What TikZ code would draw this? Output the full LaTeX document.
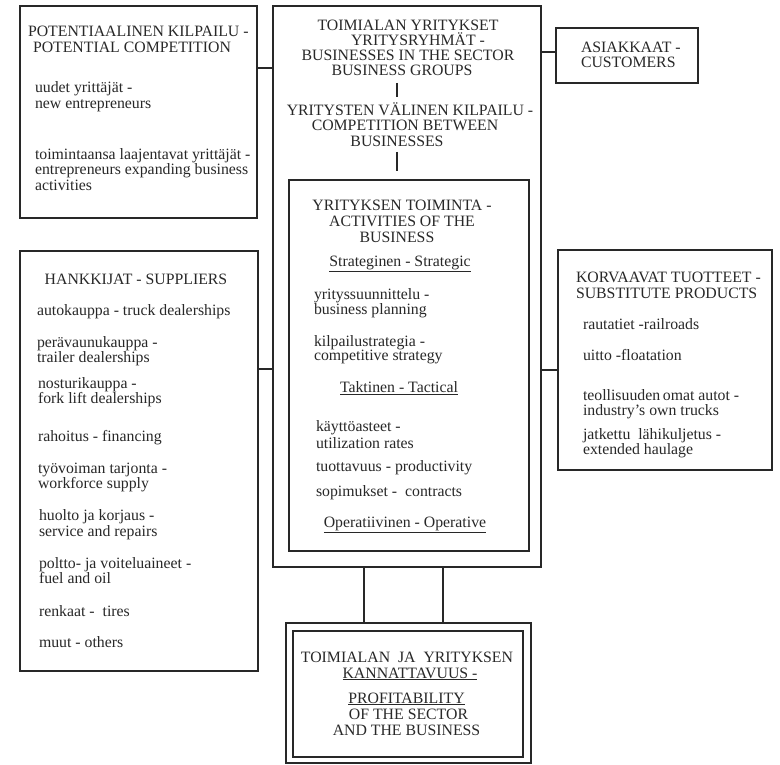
\documentclass[tikz,border=0pt]{standalone}
\usepackage{fontspec}
\setmainfont{Liberation Serif}
\usetikzlibrary{calc}
\definecolor{ink}{RGB}{40,40,40}
\tikzset{
  box/.style={draw=ink, line width=1.2pt, inner sep=0pt, outer sep=0pt},
  lab/.style={text=ink, inner sep=0pt, outer sep=0pt, font=\fontsize{15.8}{16}\selectfont},
  labl/.style={lab, anchor=base west},
  labc/.style={lab, anchor=base},
  conn/.style={draw=ink, line width=1.2pt},
}
\begin{document}
\begin{tikzpicture}[x=1pt, y=-1pt]
\useasboundingbox[fill=white] (0,0) rectangle (780,765);

% boxes
\node[box, minimum width=237pt, minimum height=212pt] (pot) at (138.5,112) {};
\node[box, minimum width=268pt, minimum height=561pt] (ctr) at (407,286.5) {};
\node[box, minimum width=142pt, minimum height=55pt] (cust) at (627,55.5) {};
\node[box, minimum width=240pt, minimum height=371pt] (act) at (409,365.5) {};
\node[box, minimum width=238pt, minimum height=420pt] (supp) at (139,461) {};
\node[box, minimum width=214pt, minimum height=220pt] (subs) at (665,360) {};
\node[box, minimum width=245pt, minimum height=140pt] (botO) at (408.5,693) {};
\node[box, minimum width=230pt, minimum height=126pt] (botI) at (408,694) {};

% connectors
\draw[conn] ([yshift=44pt]pot.east) -- ([yshift=44pt]pot.east -| ctr.west);
\draw[conn] ([yshift=3.5pt]cust.west) -- ([yshift=3.5pt]cust.west -| ctr.east);
\draw[conn] ([yshift=92pt]supp.east) -- ([yshift=92pt]supp.east -| ctr.west);
\draw[conn] ([yshift=-10pt]subs.west) -- ([yshift=-10pt]subs.west -| ctr.east);
\draw[conn] ([xshift=-43pt]ctr.south) -- ([xshift=-43pt]ctr.south |- botO.north);
\draw[conn] ([xshift=36pt]ctr.south) -- ([xshift=36pt]ctr.south |- botO.north);

% potential competition
\node[labl] (p1) at (28,37) {POTENTIAALINEN KILPAILU -};
\node[labl] (p2) at (33,52.5) {POTENTIAL COMPETITION};
\node[labl] (p3) at (35,93) {uudet yrittäjät -};
\node[labl] (p4) at (35,108.5) {new entrepreneurs};
\node[labl] (p5) at (35,159.5) {toimintaansa laajentavat yrittäjät -};
\node[labl] (p6) at (35,175) {entrepreneurs expanding business};
\node[labl] (p7) at (35,190.5) {activities};

% center top
\node[labc] (c1) at (408,30.5) {TOIMIALAN YRITYKSET};
\node[labc] (c2) at (418,45.5) {YRITYSRYHMÄT -};
\node[labc] (c3) at (408,61) {BUSINESSES IN THE SECTOR};
\node[labc] (c4) at (402,76) {BUSINESS GROUPS};
\node[labc] (c5) at (410,115.5) {YRITYSTEN VÄLINEN KILPAILU -};
\node[labc] (c6) at (405,131) {COMPETITION BETWEEN};
\node[labc] (c7) at (397,146.5) {BUSINESSES};
\coordinate (bar1a) at (397,83);
\coordinate (bar1b) at (397,97);
\coordinate (bar2a) at (397,152);
\coordinate (bar2b) at (397,171);
\draw[conn] (bar1a) -- (bar1b);
\draw[conn] (bar2a) -- (bar2b);

% customers
\node[labl] (k1) at (581,52.3) {ASIAKKAAT -};
\node[labl] (k2) at (581,67.7) {CUSTOMERS};

% activities
\node[labc] (a1) at (402,211) {YRITYKSEN TOIMINTA -};
\node[labc] (a2) at (402,227) {ACTIVITIES OF THE};
\node[labc] (a3) at (397,242.5) {BUSINESS};
\node[labc] (a4) at (400,266.5) {\underline{Strateginen - Strategic}};
\node[labl] (a5) at (314,299.5) {yrityssuunnittelu -};
\node[labl] (a6) at (314,314) {business planning};
\node[labl] (a7) at (314,346) {kilpailustrategia -};
\node[labl] (a8) at (314,360.5) {competitive strategy};
\node[labc] (a9) at (399,392.5) {\underline{Taktinen - Tactical}};
\node[labl] (a10) at (316,431.5) {käyttöasteet -};
\node[labl] (a11) at (316,448) {utilization rates};
\node[labl] (a12) at (316,471.5) {tuottavuus - productivity};
\node[labl] (a13) at (316,496) {sopimukset -~ contracts};
\node[labc] (a14) at (405,527) {\underline{Operatiivinen - Operative}};

% profitability
\node[labc] (b1) at (407,662.5) {TOIMIALAN~ JA~ YRITYKSEN};
\node[labc] (b2) at (410,678) {\underline{KANNATTAVUUS -}};
\node[labc] (b3) at (406.5,703) {\underline{PROFITABILITY}};
\node[labc] (b4) at (408.5,719) {OF THE SECTOR};
\node[labc] (b5) at (406.5,735) {AND THE BUSINESS};

% suppliers
\node[labc] (s0) at (136,284) {HANKKIJAT - SUPPLIERS};
\node[labl] (s1) at (37,315.5) {autokauppa - truck dealerships};
\node[labl] (s2) at (37,347) {perävaunukauppa -};
\node[labl] (s3) at (37,362.5) {trailer dealerships};
\node[labl] (s4) at (38,388) {nosturikauppa -};
\node[labl] (s5) at (38,403.5) {fork lift dealerships};
\node[labl] (s6) at (38,441.5) {rahoitus - financing};
\node[labl] (s7) at (38,473) {työvoiman tarjonta -};
\node[labl] (s8) at (38,488.5) {workforce supply};
\node[labl] (s9) at (39,520.5) {huolto ja korjaus -};
\node[labl] (s10) at (39,536) {service and repairs};
\node[labl] (s11) at (39,568) {poltto- ja voiteluaineet -};
\node[labl] (s12) at (39,583.5) {fuel and oil};
\node[labl] (s13) at (39,616) {renkaat -~ tires};
\node[labl] (s14) at (39,647) {muut - others};

% substitutes
\node[labl] (r1) at (576,283) {KORVAAVAT TUOTTEET -};
\node[labl] (r2) at (576,298.5) {SUBSTITUTE PRODUCTS};
\node[labl] (r3) at (583,329.3) {rautatiet -railroads};
\node[labl] (r4) at (583,360.7) {uitto -floatation};
\node[labl] (r5) at (583,400) {teollisuuden\,omat autot -};
\node[labl] (r6) at (583,415.5) {industry's own trucks};
\node[labl] (r7) at (583,439) {jatkettu~ lähikuljetus -};
\node[labl] (r8) at (583,454.5) {extended haulage};
\end{tikzpicture}
\end{document}
